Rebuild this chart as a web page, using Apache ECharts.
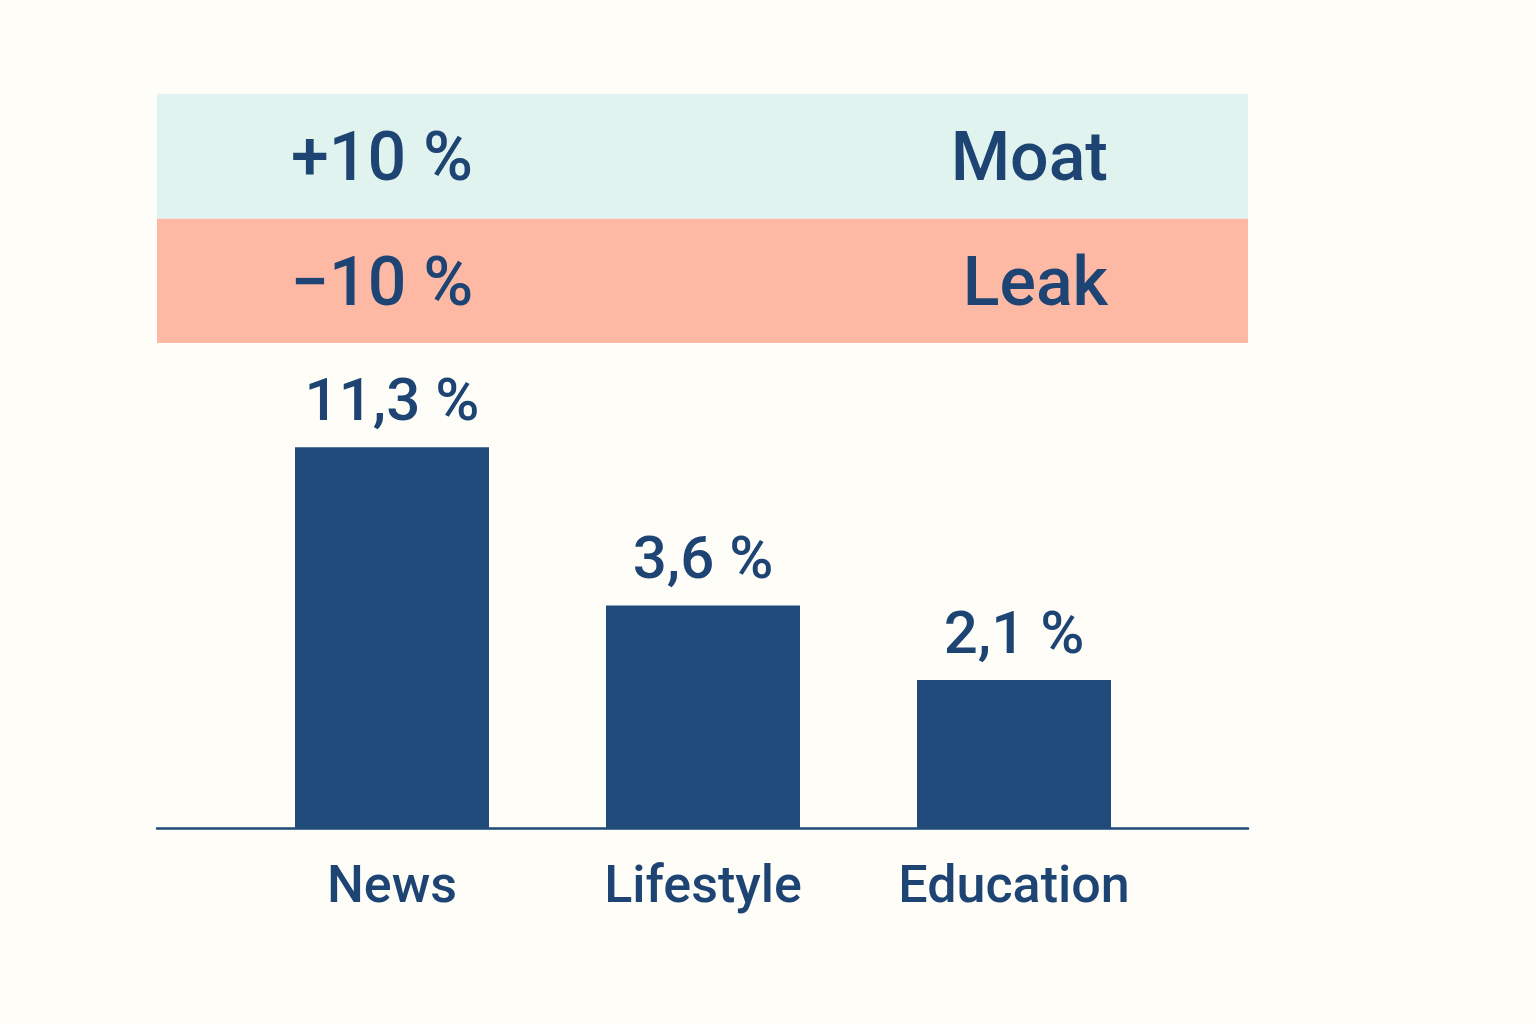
<!DOCTYPE html>
<html>
<head>
<meta charset="utf-8">
<script src="https://cdn.jsdelivr.net/npm/echarts@6/dist/echarts.min.js"></script>
<style>
html,body{margin:0;padding:0;background:#FEFDF8;}
#chart{width:1536px;height:1024px;}
</style>
</head>
<body>
<div id="chart"></div>
<script>
// ---- data ----
const categories = ['News', 'Lifestyle', 'Education'];
const shareValues = [11.3, 3.6, 2.1];
const bandNames = ['Leak', 'Moat'];            // bottom to top
const bandLeftLabels = ['\u221210 %', '+10 %'];
const bandColors = ['#FDB9A4', '#E0F3EE'];
const bandFill = [1, 1];

const TEXT = '#1E4474';
const BAR = '#1F4A7A';
const FONT = 'Roboto';

function fmtPct(v) { return v.toFixed(1).replace('.', ',') + ' %'; }

const chart = echarts.init(document.getElementById('chart'));
chart.setOption({
  backgroundColor: '#FEFDF8',
  animation: false,
  textStyle: { fontFamily: FONT },
  grid: [
    { left: 236.5, width: 933, top: 343, height: 485 },   // bars
    { left: 157, width: 1091, top: 94, height: 249 },     // band fills
    { left: 236.5, width: 933, top: 94, height: 249 },    // band texts
    { left: 157, width: 1091, top: 827, height: 1 }       // baseline
  ],
  xAxis: [
    { type: 'category', gridIndex: 0, data: categories,
      axisLine: { show: false }, axisTick: { show: false },
      axisLabel: { color: TEXT, fontSize: 52, fontWeight: 500, fontFamily: FONT, margin: 35 } },
    { type: 'value', gridIndex: 1, min: 0, max: 1, show: false },
    { type: 'category', gridIndex: 2, data: categories, show: false },
    { type: 'value', gridIndex: 3, min: 0, max: 1,
      axisLine: { show: true, lineStyle: { color: BAR, width: 2.5 } },
      axisTick: { show: false }, axisLabel: { show: false }, splitLine: { show: false } }
  ],
  yAxis: [
    { type: 'log', gridIndex: 0, min: 0.72, max: 24, startValue: 0.72, show: false },
    { type: 'category', gridIndex: 1, data: bandNames, show: false },
    { type: 'category', gridIndex: 2, data: bandNames, show: false },
    { type: 'value', gridIndex: 3, show: false }
  ],
  series: [
    {
      type: 'bar', xAxisIndex: 1, yAxisIndex: 1, silent: true,
      barWidth: '100%', barCategoryGap: 0,
      data: bandFill.map((v, i) => ({ value: v, itemStyle: { color: bandColors[i] } }))
    },
    {
      type: 'scatter', xAxisIndex: 2, yAxisIndex: 2, silent: true,
      symbolSize: 1, itemStyle: { color: 'transparent', opacity: 1 },
      data: bandNames.map(b => [categories[0], b]),
      label: { show: true, position: 'inside', color: TEXT, opacity: 1, fontSize: 68, fontWeight: 500, fontFamily: FONT,
        offset: [-10, 7],
        formatter: p => bandLeftLabels[p.dataIndex] }
    },
    {
      type: 'scatter', xAxisIndex: 2, yAxisIndex: 2, silent: true,
      symbolSize: 1, itemStyle: { color: 'transparent', opacity: 1 },
      data: bandNames.map(b => [categories[categories.length - 1], b]),
      label: { show: true, position: 'inside', align: 'right', color: TEXT, opacity: 1, fontSize: 68, fontWeight: 500, fontFamily: FONT,
        offset: [94, 7],
        formatter: p => bandNames[p.dataIndex] }
    },
    {
      type: 'bar', xAxisIndex: 0, yAxisIndex: 0, silent: true,
      barWidth: 194,
      itemStyle: { color: BAR },
      data: shareValues,
      label: { show: true, position: 'top', distance: 12, color: TEXT, fontSize: 60, fontWeight: 500, fontFamily: FONT,
        formatter: p => fmtPct(p.value) }
    }
  ]
});
</script>
</body>
</html>
